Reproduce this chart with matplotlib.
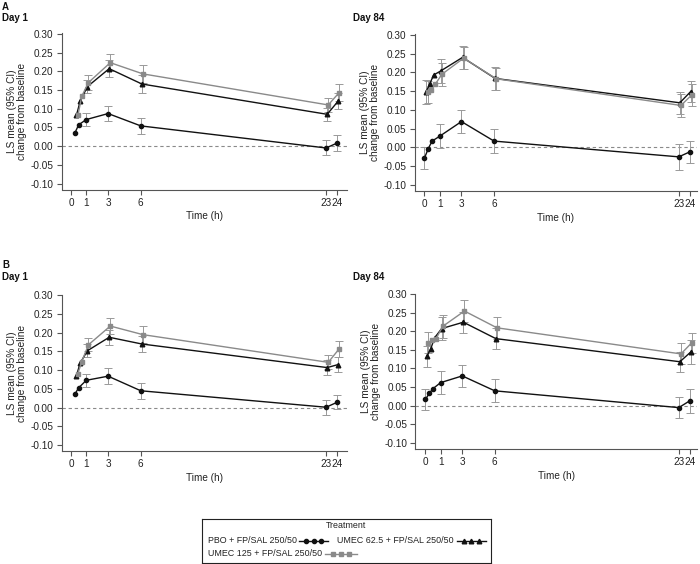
import numpy as np
import matplotlib
matplotlib.use("Agg")
import matplotlib.pyplot as plt
from matplotlib.lines import Line2D

plt.rcParams['font.family'] = ['Liberation Sans', 'DejaVu Sans']

nan = np.nan

# Time points (h)
times_day1 = [0.25, 0.5, 1, 3, 6, 23, 24]
times_day84 = [0, 0.25, 0.5, 1, 3, 6, 23, 24]
tick_hours = [0, 1, 3, 6, 23, 24]
y_ticks = [0.30, 0.25, 0.20, 0.15, 0.10, 0.05, 0.00, -0.05, -0.10]

labels = ['PBO + FP/SAL 250/50', 'UMEC 62.5 + FP/SAL 250/50',
          'UMEC 125 + FP/SAL 250/50']

# Panel A, Day 1 (LS mean, half-width of 95% CI)
a_d1_pbo = [0.035, 0.057, 0.071, 0.087, 0.054, -0.005, 0.008]
a_d1_pbo_ci = [nan, nan, 0.018, 0.021, 0.022, 0.020, 0.022]
a_d1_u62 = [0.082, 0.120, 0.159, 0.207, 0.166, 0.085, 0.120]
a_d1_u62_ci = [nan, nan, 0.018, 0.022, 0.023, 0.017, 0.022]
a_d1_u125 = [0.082, 0.133, 0.170, 0.223, 0.193, 0.110, 0.143]
a_d1_u125_ci = [nan, nan, 0.020, 0.022, 0.023, 0.019, 0.022]

# Panel A, Day 84
a_d84_pbo = [-0.028, -0.003, 0.017, 0.030, 0.069, 0.017, -0.025, -0.012]
a_d84_pbo_ci = [0.029, nan, nan, 0.032, 0.030, 0.031, 0.035, 0.030]
a_d84_u62 = [0.148, 0.170, 0.193, 0.204, 0.240, 0.184, 0.119, 0.149]
a_d84_u62_ci = [0.031, nan, nan, 0.032, 0.031, 0.030, 0.030, 0.028]
a_d84_u125 = [0.148, 0.153, 0.168, 0.195, 0.238, 0.183, 0.112, 0.140]
a_d84_u125_ci = [0.030, nan, nan, 0.030, 0.030, 0.030, 0.030, 0.030]

# Panel B, Day 1
b_d1_pbo = [0.036, 0.053, 0.073, 0.084, 0.045, 0.001, 0.014]
b_d1_pbo_ci = [nan, nan, 0.017, 0.022, 0.022, 0.020, 0.019]
b_d1_u62 = [0.085, 0.119, 0.152, 0.188, 0.170, 0.107, 0.115]
b_d1_u62_ci = [nan, nan, 0.018, 0.020, 0.021, 0.019, 0.021]
b_d1_u125 = [0.091, 0.123, 0.168, 0.218, 0.195, 0.121, 0.157]
b_d1_u125_ci = [nan, nan, 0.018, 0.021, 0.022, 0.019, 0.021]

# Panel B, Day 84
b_d84_pbo = [0.017, 0.033, 0.046, 0.062, 0.080, 0.040, -0.005, 0.013]
b_d84_pbo_ci = [0.028, nan, nan, 0.030, 0.030, 0.031, 0.028, 0.032]
b_d84_u62 = [0.133, 0.153, 0.182, 0.207, 0.224, 0.180, 0.118, 0.144]
b_d84_u62_ci = [0.028, nan, nan, 0.030, 0.028, 0.029, 0.027, 0.031]
b_d84_u125 = [0.169, 0.175, 0.180, 0.213, 0.254, 0.209, 0.139, 0.169]
b_d84_u125_ci = [0.028, nan, nan, 0.030, 0.030, 0.030, 0.028, 0.027]

BLACK = '#111111'
GREY = '#8a8a8a'
ERR = '#999999'
AXC = '#555555'

styles = [
    dict(color=BLACK, marker='o', ms=3.0, off=0.0),
    dict(color=BLACK, marker='^', ms=3.3, off=0.1),
    dict(color=GREY, marker='s', ms=3.0, off=0.2),
]


# time axis is stretched between 0 and 1 h, as in the original
def fwd(x):
    x = np.asarray(x, dtype=float)
    return np.where(x < 1, x * 1.4 - 0.4, x)


def inv(y):
    y = np.asarray(y, dtype=float)
    return np.where(y < 1, (y + 0.4) / 1.4, y)


W, H = 700, 564
fig = plt.figure(figsize=(W / 100, H / 100), dpi=100)


def px_axes(left, right, top, bottom):
    return fig.add_axes([left / W, 1 - bottom / H, (right - left) / W,
                         (bottom - top) / H])


def panel(ax, times, series, xleft, xright):
    ax.set_xscale('function', functions=(fwd, inv))
    ax.axhline(0, color='#8a8a8a', lw=0.8, ls=(0, (3, 2.5)), zorder=1)
    for (vals, ci), st in zip(series, styles):
        t = np.asarray(times, dtype=float) + st['off']
        v = np.asarray(vals)
        e = np.asarray(ci)
        m = ~np.isnan(e)
        ax.errorbar(t[m], v[m], yerr=e[m], fmt='none', ecolor=ERR,
                    elinewidth=0.7, capsize=2.6, capthick=0.7, zorder=2)
    for (vals, ci), st in zip(series, styles):
        t = np.asarray(times, dtype=float) + st['off']
        ax.plot(t, vals, color=st['color'], marker=st['marker'],
                ms=st['ms'], lw=1.0, zorder=3)
    ax.set_xlim(float(inv(xleft)), xright)
    ax.set_ylim(-0.116, 0.301)
    ax.set_xticks(tick_hours)
    ax.set_xticklabels([str(h) for h in tick_hours])
    ax.set_yticks(y_ticks)
    ax.set_yticklabels(['%.2f' % v for v in y_ticks])
    ax.minorticks_off()
    for s in ['top', 'right']:
        ax.spines[s].set_visible(False)
    for s in ['left', 'bottom']:
        ax.spines[s].set_color(AXC)
        ax.spines[s].set_linewidth(0.8)
    ax.tick_params(colors=AXC, labelcolor='#222222', labelsize=7.2,
                   length=3.5, width=0.8, pad=2.5)
    ax.set_xlabel('Time (h)', fontsize=7.2, color='#222222', labelpad=2.5)
    ax.set_ylabel('LS mean (95% CI)\nchange from baseline', fontsize=7.3,
                  color='#222222', labelpad=2.5, linespacing=1.0)


ax1 = px_axes(62, 347, 33.5, 189.5)
panel(ax1, times_day1, [(a_d1_pbo, a_d1_pbo_ci), (a_d1_u62, a_d1_u62_ci),
                        (a_d1_u125, a_d1_u125_ci)], -1.23, 24.92)
ax2 = px_axes(414.5, 697, 34.5, 191)
panel(ax2, times_day84, [(a_d84_pbo, a_d84_pbo_ci), (a_d84_u62, a_d84_u62_ci),
                         (a_d84_u125, a_d84_u125_ci)], -1.32, 24.68)
ax3 = px_axes(62, 347, 295, 451)
panel(ax3, times_day1, [(b_d1_pbo, b_d1_pbo_ci), (b_d1_u62, b_d1_u62_ci),
                        (b_d1_u125, b_d1_u125_ci)], -1.23, 24.92)
ax4 = px_axes(415.5, 697, 293.5, 449)
panel(ax4, times_day84, [(b_d84_pbo, b_d84_pbo_ci), (b_d84_u62, b_d84_u62_ci),
                         (b_d84_u125, b_d84_u125_ci)], -1.32, 24.68)

# panel headings
def head(x, y, s):
    fig.text(x / W, 1 - y / H, s, fontsize=7, fontweight='bold',
             ha='left', va='center', color='#111111')


head(2, 7, 'A')
head(2, 18, 'Day 1')
head(353, 18, 'Day 84')
head(2, 265, 'B')
head(2, 277.5, 'Day 1')
head(353, 277.5, 'Day 84')

# legend box (drawn R-style: label followed by its symbol)
lg = px_axes(202, 491, 519, 563)
lg.set_xlim(0, 289)
lg.set_ylim(44, 0)
lg.set_xticks([])
lg.set_yticks([])
for s in lg.spines.values():
    s.set_color('#222222')
    s.set_linewidth(0.8)
lg.text(144.5, 6.5, 'Treatment', fontsize=6.4, ha='center', va='center',
        color='#222222')
entries = [(6, 21.7, 97, 126), (134.7, 21.7, 254.5, 284), (6, 35, 123, 154.5)]
for (tx, ty, h0, h1), lab, st in zip(entries, labels, styles):
    lg.text(tx, ty, lab, fontsize=6.4, ha='left', va='center',
            color='#222222')
    lg.add_line(Line2D([h0, h1], [ty, ty], color=st['color'], lw=1.0))
    mx = np.linspace(h0, h1, 5)[1:4]
    lg.add_line(Line2D(mx, [ty] * 3, color=st['color'], lw=0,
                       marker=st['marker'], ms=st['ms']))

fig.savefig('out.png', dpi=100)
